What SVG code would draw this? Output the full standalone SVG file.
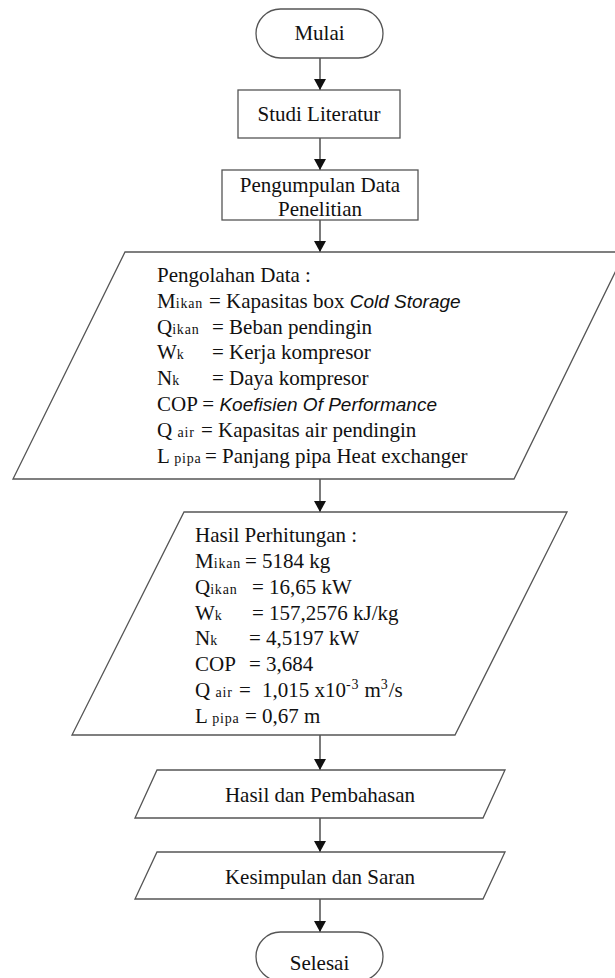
<svg xmlns="http://www.w3.org/2000/svg" width="615" height="978" viewBox="0 0 615 978">
<style>
.shape{fill:#fff;stroke:#555;stroke-width:1.3}
.con{stroke:#333;stroke-width:1.3;fill:none;marker-end:url(#arr)}
.t{font-family:"Liberation Serif","Times New Roman",serif;font-size:21px;fill:#111}
.c{text-anchor:middle}
.s{font-size:14px;letter-spacing:0.8px}
.i{font-family:"Liberation Sans",Arial,sans-serif;font-style:italic;font-size:19px}
</style>
<defs>
<marker id="arr" markerUnits="userSpaceOnUse" markerWidth="12" markerHeight="12" viewBox="0 0 11 12" refX="11" refY="6" orient="auto">
<path d="M0,0 L11,6 L0,12 z" fill="#111"/>
</marker>
</defs>
<rect width="615" height="978" fill="#fff"/>
<g id="connectors">
<line class="con" x1="320" y1="58" x2="320" y2="90"/>
<line class="con" x1="320" y1="138" x2="320" y2="170"/>
<line class="con" x1="320" y1="220" x2="320" y2="252"/>
<line class="con" x1="320" y1="479" x2="320" y2="512"/>
<line class="con" x1="320" y1="735" x2="320" y2="770"/>
<line class="con" x1="320" y1="818" x2="320" y2="852"/>
<line class="con" x1="320" y1="899" x2="320" y2="932"/>
</g>
<g id="mulai">
<rect class="shape" x="256" y="9" width="127" height="49" rx="24.5"/>
<text class="t c" x="319.5" y="40">Mulai</text>
</g>
<g id="studi">
<rect class="shape" x="238" y="90" width="162" height="48"/>
<text class="t c" x="319" y="121">Studi Literatur</text>
</g>
<g id="pengumpulan">
<rect class="shape" x="222" y="170" width="196" height="50"/>
<text class="t c" x="320" y="192">Pengumpulan Data</text>
<text class="t c" x="320" y="216">Penelitian</text>
</g>
<g id="pengolahan">
<polygon class="shape" points="125,252 625,252 514,479 13,479"/>
<text class="t" x="157" y="282">Pengolahan Data :</text>
<text class="t" x="157" y="308">M<tspan class="s">ikan</tspan><tspan x="209">= Kapasitas box </tspan><tspan class="i">Cold Storage</tspan></text>
<text class="t" x="157" y="334">Q<tspan class="s">ikan</tspan><tspan x="212">= Beban pendingin</tspan></text>
<text class="t" x="157" y="359">W<tspan class="s">k</tspan><tspan x="212">= Kerja kompresor</tspan></text>
<text class="t" x="157" y="385">N<tspan class="s">k</tspan><tspan x="212">= Daya kompresor</tspan></text>
<text class="t" x="157" y="411">COP = <tspan class="i">Koefisien Of Performance</tspan></text>
<text class="t" x="157" y="437">Q <tspan class="s">air</tspan><tspan x="201">= Kapasitas air pendingin</tspan></text>
<text class="t" x="157" y="463">L <tspan class="s">pipa</tspan><tspan x="205">= Panjang pipa Heat exchanger</tspan></text>
</g>
<g id="hasil-perhitungan">
<polygon class="shape" points="184,512 567,512 455,735 72,735"/>
<text class="t" x="195" y="542">Hasil Perhitungan :</text>
<text class="t" x="195" y="568">M<tspan class="s">ikan</tspan><tspan x="245">= 5184 kg</tspan></text>
<text class="t" x="195" y="594">Q<tspan class="s">ikan</tspan><tspan x="252">= 16,65 kW</tspan></text>
<text class="t" x="195" y="620">W<tspan class="s">k</tspan><tspan x="252">= 157,2576 kJ/kg</tspan></text>
<text class="t" x="195" y="645">N<tspan class="s">k</tspan><tspan x="249">= 4,5197 kW</tspan></text>
<text class="t" x="195" y="671">COP<tspan x="249">= 3,684</tspan></text>
<text class="t" x="195" y="697">Q <tspan class="s">air</tspan><tspan x="239">=</tspan><tspan x="262">1,015 x10</tspan><tspan class="s" dy="-8">-3</tspan><tspan dy="8"> m</tspan><tspan class="s" dy="-8">3</tspan><tspan dy="8">/s</tspan></text>
<text class="t" x="195" y="723">L <tspan class="s">pipa</tspan><tspan x="245">= 0,67 m</tspan></text>
</g>
<g id="hasil-pembahasan">
<polygon class="shape" points="157,770 505,770 483,818 135,818"/>
<text class="t c" x="320" y="802">Hasil dan Pembahasan</text>
</g>
<g id="kesimpulan">
<polygon class="shape" points="157,852 505,852 483,899 135,899"/>
<text class="t c" x="320" y="884">Kesimpulan dan Saran</text>
</g>
<g id="selesai">
<rect class="shape" x="256" y="932" width="127" height="49" rx="24.5"/>
<text class="t c" x="319.5" y="970">Selesai</text>
</g>
</svg>
